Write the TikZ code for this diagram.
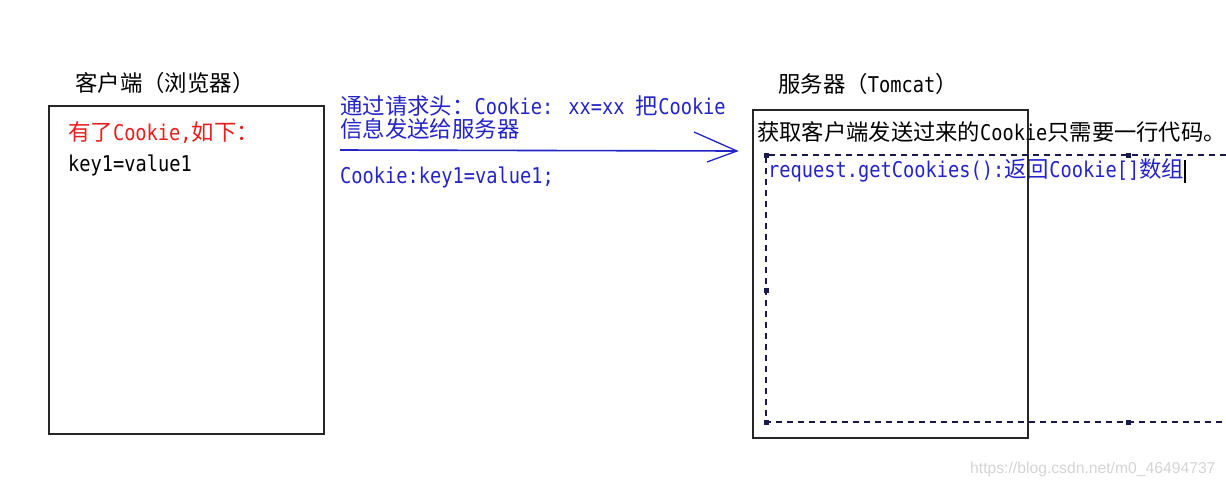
\documentclass[tikz,border=0pt]{standalone}
\usepackage{fontspec}
\setmainfont{DejaVu Sans Mono}[Scale=0.97, FakeStretch=0.86]
\newfontfamily\cjk{Noto Sans CJK SC}
\newfontfamily\webfont{Liberation Sans}
\usetikzlibrary{positioning}
\definecolor{ckblue}{RGB}{35,35,200}
\definecolor{ckred}{RGB}{230,30,30}
\definecolor{cknavy}{RGB}{25,25,75}
\definecolor{ckmark}{RGB}{212,212,212}
\newcommand{\zh}[1]{{\cjk #1}}
\tikzset{
  ckbox/.style={draw=black!85, line width=1.8pt, anchor=north west, inner sep=0pt},
  cktext/.style={anchor=base west, inner sep=0pt, font=\fontsize{22.4}{26}\selectfont},
  ckarrow/.style={draw=ckblue, line width=1.6pt},
  ckselect/.style={draw=cknavy, line width=1.9pt, dash pattern=on 6pt off 5pt},
  ckhandle/.style={fill=cknavy, minimum size=5pt, inner sep=0pt}
}

\begin{document}
\begin{tikzpicture}[x=1pt, y=-1pt]
  \useasboundingbox (0,0) rectangle (1226,485);
  % client side
  \node[cktext] (clientlabel) at (75,91) {\zh{客户端（浏览器）}};
  \node[cktext, text=ckred] (havecookie) at (68,140) {\zh{有了}Cookie,\zh{如下：}};
  \node[cktext] (keyvalue) at (68,171) {key1=value1};
  \node[ckbox, minimum width=275pt, minimum height=328pt] (client) at (48,105) {};
  % request header
  \node[cktext, text=ckblue] (headline) at (340,114) {\zh{通过请求头：}Cookie: xx=xx \zh{把}Cookie};
  \node[cktext, text=ckblue] (headtwo) at (340,137) {\zh{信息发送给服务器}};
  \node[cktext, text=ckblue] (sentcookie) at (340,183) {Cookie:key1=value1;};
  \coordinate (reqstart) at (340,150);
  \coordinate (reqend) at (737,151);
  \coordinate (barbup) at (694,132);
  \coordinate (barbdown) at (707,162);
  \draw[ckarrow] (reqstart) -- (reqend);
  \draw[ckarrow, line width=1.3pt] (barbup) -- (reqend) -- (barbdown);
  % server side
  \node[cktext] (serverlabel) at (778,92) {\zh{服务器（}Tomcat\zh{）}};
  \node[cktext, font=\fontsize{22.3}{26}\selectfont] (servertext) at (757,140)
    {\zh{获取客户端发送过来的}Cookie\zh{只需要一行代码。}};
  \node[cktext, text=ckblue] (getcookies) at (768,177)
    {request.getCookies():\zh{返回}Cookie[]\zh{数组}};
  \node[ckbox, minimum width=275pt, minimum height=328pt] (server) at (752,109) {};
  % text selection
  \draw[ckselect] (1226,155) -- (766,155) -- (766,422) -- (1226,422);
  \foreach \hx/\hy in {766/155, 766/290, 766/422, 1128/155, 1128/422}
    \node[ckhandle] at (\hx,\hy) {};
  \draw[black, line width=1.5pt] (1185,160) -- (1185,183);
  \node[anchor=base west, inner sep=0pt, font=\webfont\fontsize{15.7}{18}\selectfont,
    text=ckmark] (watermark) at (970,473) {https://blog.csdn.net/m0\_46494737};
\end{tikzpicture}
\end{document}
